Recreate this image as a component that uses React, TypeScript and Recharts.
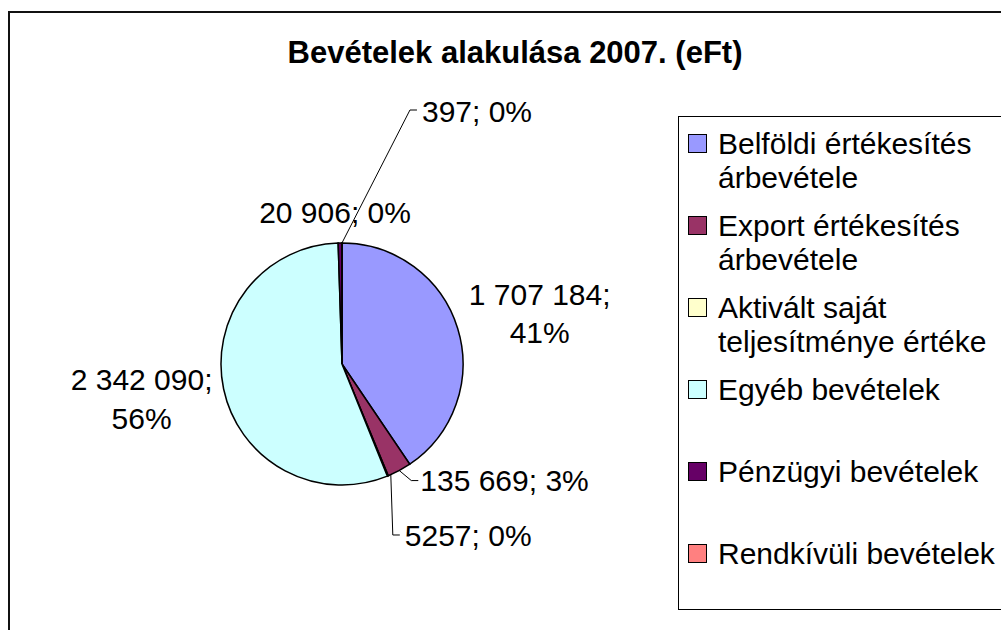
import React from 'react';
import { PieChart, Pie, Cell, Legend } from 'recharts';

const TITLE = 'Bevételek alakulása 2007. (eFt)';
const CATEGORIES = [
  'Belföldi értékesítés árbevétele',
  'Export értékesítés árbevétele',
  'Aktivált saját teljesítménye értéke',
  'Egyéb bevételek',
  'Pénzügyi bevételek',
  'Rendkívüli bevételek',
];
const VALUES = [1707184, 135669, 5257, 2342090, 20906, 397];
const COLORS = ['#9999FF', '#993366', '#FFFFCC', '#CCFFFF', '#660066', '#FF8080'];

const TOTAL = VALUES.reduce((a, b) => a + b, 0);
const data = CATEGORIES.map((name, i) => ({ name, value: VALUES[i] }));

const FONT = '"Liberation Sans", Arial, sans-serif';

// label layout relative to slice anchor point on the rim
type Layout = {
  kind: 'two' | 'one';
  tx: number;
  ty: number;
  ty2?: number;
  anchor: 'start' | 'middle';
  leader?: number[][];
};
const LABEL_LAYOUT: Layout[] = [
  { kind: 'two', tx: 82, ty: -24, ty2: 14, anchor: 'middle' },
  { kind: 'one', tx: 21, ty: 20, anchor: 'start', leader: [[0, 0], [12, 10], [19, 10]] },
  { kind: 'one', tx: 17, ty: 70, anchor: 'start', leader: [[3, -1], [5, 59], [12, 59]] },
  { kind: 'two', tx: -82, ty: 1, ty2: 40, anchor: 'middle' },
  { kind: 'one', tx: -5, ty: -20, anchor: 'middle' },
  { kind: 'one', tx: 80, ty: -121, anchor: 'start', leader: [[0, 0], [68, -133], [75, -133]] },
];

const fmt = (v: number) => {
  const s = String(v);
  return s.length > 4 ? s.replace(/\B(?=(\d{3})+(?!\d))/g, ' ') : s;
};

const renderLabel = (props: any) => {
  const { cx, cy, midAngle, outerRadius, index } = props;
  const RAD = Math.PI / 180;
  const ax = cx + outerRadius * Math.cos(-midAngle * RAD);
  const ay = cy + outerRadius * Math.sin(-midAngle * RAD);
  const L = LABEL_LAYOUT[index];
  const v = VALUES[index];
  const valText = fmt(v);
  const pctText = Math.round((v / TOTAL) * 100) + '%';
  const textStyle = { fontFamily: FONT, fontSize: 30, fill: '#000' } as const;
  return (
    <g key={'lbl' + index}>
      {L.leader && (
        <polyline
          points={L.leader.map(([x, y]) => `${ax + x},${ay + y}`).join(' ')}
          fill="none"
          stroke="#000"
          strokeWidth={1}
        />
      )}
      {L.kind === 'two' ? (
        <>
          <text x={ax + L.tx} y={ay + L.ty} textAnchor="middle" style={textStyle}>
            {valText + ';'}
          </text>
          <text x={ax + L.tx} y={ay + (L.ty2 as number)} textAnchor="middle" style={textStyle}>
            {pctText}
          </text>
        </>
      ) : (
        <text x={ax + L.tx} y={ay + L.ty} textAnchor={L.anchor} style={textStyle}>
          {valText + '; ' + pctText}
        </text>
      )}
    </g>
  );
};

const renderLegend = () => (
  <div
    style={{
      width: 340,
      height: 494,
      border: '1px solid #000',
      background: '#fff',
      boxSizing: 'border-box',
      fontFamily: FONT,
    }}
  >
    {CATEGORIES.map((name, i) => (
      <div key={name} style={{ position: 'relative', height: 82 }}>
        <div
          style={{
            position: 'absolute',
            left: 9,
            top: 17,
            width: 17,
            height: 17,
            background: COLORS[i],
            border: '1px solid #000',
          }}
        />
        <div
          style={{
            position: 'absolute',
            left: 39,
            top: 10,
            width: 285,
            fontSize: 30,
            lineHeight: '34px',
            color: '#000',
          }}
        >
          {name}
        </div>
      </div>
    ))}
  </div>
);

export default function App() {
  return (
    <div
      style={{
        position: 'fixed',
        left: 0,
        top: 0,
        width: 1001,
        height: 630,
        overflow: 'hidden',
        background: '#fff',
      }}
    >
      <div
        style={{
          position: 'absolute',
          left: 8,
          top: 11,
          width: 1100,
          height: 700,
          border: '2px solid #111',
        }}
      />
      <div style={{ position: 'absolute', left: 0, top: 0 }}>
        <PieChart width={1001} height={630} margin={{ top: 0, right: 0, bottom: 0, left: 0 }}>
          <text x={515} y={63} textAnchor="middle" style={{ fontFamily: FONT, fontSize: 31, fontWeight: 'bold', fill: '#000' }}>
            {TITLE}
          </text>
          <Pie
            data={data}
            dataKey="value"
            nameKey="name"
            cx={342}
            cy={364}
            outerRadius={121}
            startAngle={90}
            endAngle={-270}
            stroke="#000"
            strokeWidth={1.5}
            label={renderLabel}
            labelLine={false}
            isAnimationActive={false}
          >
            {data.map((d, i) => (
              <Cell key={d.name} fill={COLORS[i]} />
            ))}
          </Pie>
          <Legend
            content={renderLegend}
            wrapperStyle={{ position: 'absolute', left: 678, top: 116, width: 340, height: 494 }}
          />
        </PieChart>
      </div>
    </div>
  );
}
